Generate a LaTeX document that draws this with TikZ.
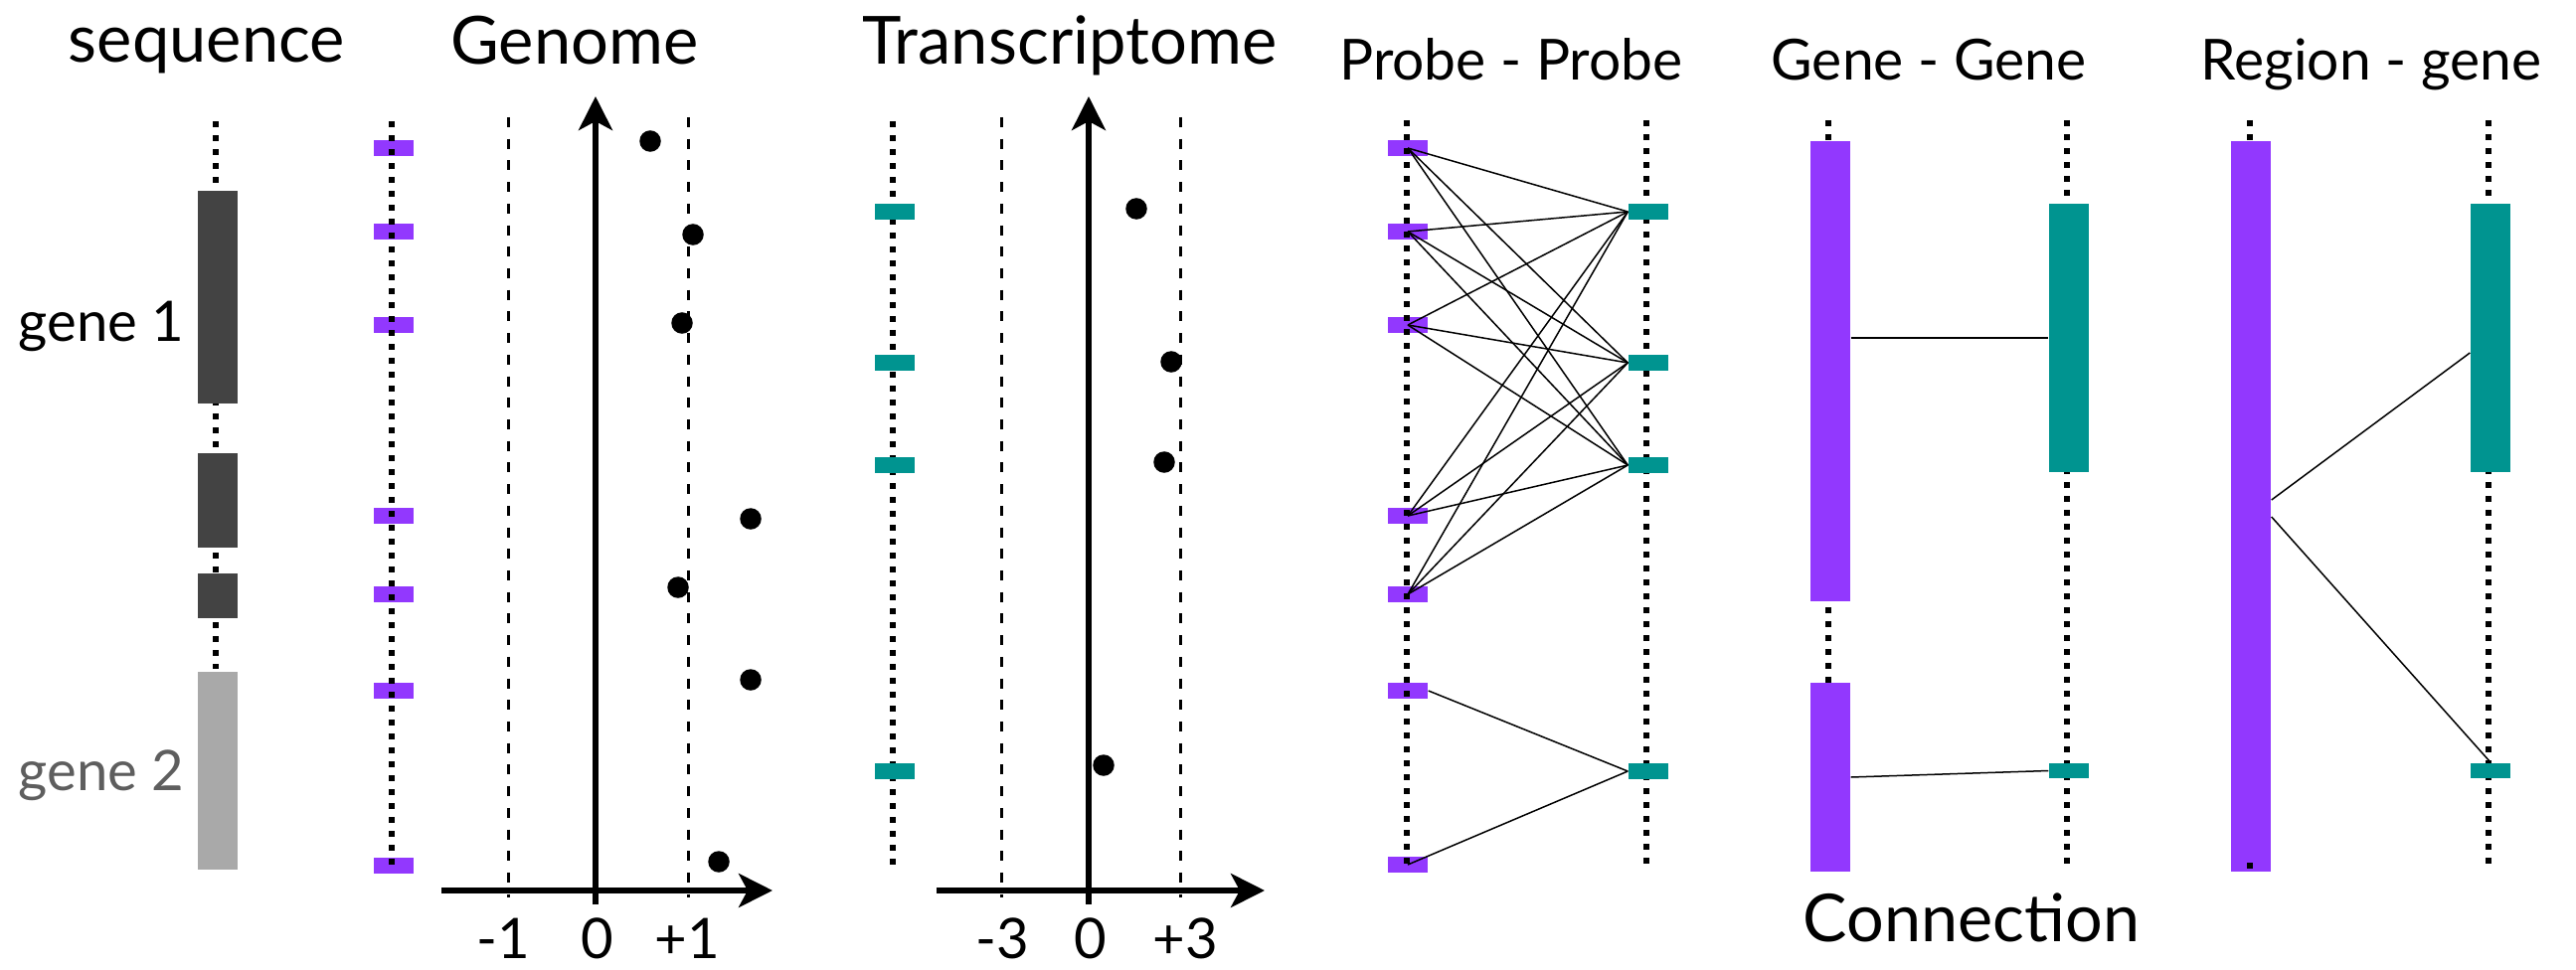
\documentclass[tikz,border=0pt]{standalone}
\usepackage{fontspec}
\setmainfont{Lato}
\usetikzlibrary{arrows.meta}
\definecolor{pur}{RGB}{146,56,254}
\definecolor{tl}{RGB}{0,148,144}
\definecolor{dkgray}{RGB}{67,67,67}
\definecolor{ltgray}{RGB}{169,169,169}
\definecolor{txgray}{RGB}{94,94,94}
\begin{document}
\begin{tikzpicture}[x=0.01cm,y=-0.01cm,
  dotline/.style={line width=0.06cm, dash pattern=on 0.06cm off 0.08cm},
  dashline/.style={line width=0.03cm, dash pattern=on 0.10cm off 0.117cm},
  axis/.style={line width=0.055cm, -{Stealth[length=0.34cm,width=0.34cm,inset=0.09cm]}},
  pprobe/.style={fill=pur, minimum width=0.4cm, minimum height=0.155cm, inner sep=0pt},
  tprobe/.style={fill=tl, minimum width=0.4cm, minimum height=0.155cm, inner sep=0pt},
  pbar/.style={fill=pur, minimum width=0.4cm, inner sep=0pt},
  tbar/.style={fill=tl, minimum width=0.4cm, inner sep=0pt},
  dot/.style={circle, fill=black, minimum size=0.215cm, inner sep=0pt},
  link/.style={line width=0.015cm},
  bigtitle/.style={font=\fontsize{19}{22}\selectfont, anchor=base, inner sep=0pt},
  smalltitle/.style={font=\fontsize{16.2}{19}\selectfont, anchor=base, inner sep=0pt},
  ticklabel/.style={font=\fontsize{16}{19}\selectfont, anchor=base, inner sep=0pt},
  genelabel/.style={font=\fontsize{16}{19}\selectfont, anchor=base west, inner sep=0pt}]
\useasboundingbox (0,0) rectangle (2591,976);

% ---------- titles ----------
\node[bigtitle] (tseq) at (208,63) {sequence};
\node[bigtitle] (tgen) at (578,65) {Genome};
\node[bigtitle] (ttr) at (1076,65) {Transcriptome};
\node[smalltitle] (tpp) at (1520,81) {Probe - Probe};
\node[smalltitle] (tgg) at (1940,81) {Gene - Gene};
\node[smalltitle] (trg) at (2385,81) {Region - gene};
\node[font=\fontsize{18.9}{22}\selectfont, anchor=base, inner sep=0pt] (tcon) at (1983,947) {Connection};

% ---------- sequence column ----------
\draw[dotline] (217,122) -- (217,673);
\fill[dkgray] (199,192) rectangle (239,406);
\fill[dkgray] (199,456) rectangle (239,551);
\fill[dkgray] (199,577) rectangle (239,622);
\fill[ltgray] (199,676) rectangle (239,875);
\node[genelabel] (g1lab) at (18,343) {gene 1};
\node[genelabel, text=txgray] (g2lab) at (18,795) {gene 2};

% ---------- Genome column ----------
\foreach \i/\y in {1/149,2/233,3/327,4/519,5/598,6/695,7/871}
  \node[pprobe] (gp\i) at (396,\y) {};
\draw[dotline] (394,122) -- (394,875);
\draw[dashline] (511,118) -- (511,903);
\draw[dashline] (692,118) -- (692,903);
\draw[axis] (599,910) -- (599,97);
\draw[axis] (444,896) -- (777,896);
\foreach \i/\x/\y in {1/654/142,2/697/236,3/686/325,4/755/522,5/682/591,6/755/684,7/723/867}
  \node[dot] (gd\i) at (\x,\y) {};
\node[ticklabel] (gm1) at (506,964) {-1};
\node[ticklabel] (g0) at (601,964) {0};
\node[ticklabel] (gp1) at (691,964) {+1};

% ---------- Transcriptome column ----------
\draw[dotline] (898,122) -- (898,873);
\foreach \i/\y in {1/213,2/365,3/468,4/776}
  \node[tprobe] (tp\i) at (900,\y) {};
\draw[dashline] (1007,118) -- (1007,903);
\draw[dashline] (1187,118) -- (1187,903);
\draw[axis] (1095,910) -- (1095,97);
\draw[axis] (942,896) -- (1272,896);
\foreach \i/\x/\y in {1/1143/210,2/1178/364,3/1171/465,4/1110/770}
  \node[dot] (td\i) at (\x,\y) {};
\node[ticklabel] (tm3) at (1008,964) {-3};
\node[ticklabel] (t0) at (1097,964) {0};
\node[ticklabel] (tp3) at (1192,964) {+3};

% ---------- Probe - Probe ----------
\foreach \i/\y in {1/149,2/233,3/327,4/519,5/598,6/695,7/870}
  \node[pprobe] (pp\i) at (1416,\y) {};
\draw[dotline] (1415,121) -- (1415,874);
\draw[dotline] (1656,121) -- (1656,874);
\foreach \i/\y in {1/213,2/365,3/468,4/776}
  \node[tprobe] (pt\i) at (1658,\y) {};
\foreach \a in {1,2,3,4,5}
  \foreach \b in {1,2,3}
    \draw[link] (pp\a.center) -- (pt\b.west);
\draw[link] (pp6.east) -- (pt4.west);
\draw[link] (pp7.center) -- (pt4.west);

% ---------- Gene - Gene ----------
\draw[dotline] (1839,121) -- (1839,874);
\draw[dotline] (2079,121) -- (2079,874);
\node[pbar, minimum height=4.63cm] (gg1) at (1841,373.5) {};
\node[pbar, minimum height=1.90cm] (gg2) at (1841,782) {};
\node[tbar, minimum height=2.70cm] (gt1) at (2081,340) {};
\node[tprobe] (gt2) at (2081,775.5) {};
\draw[link] (gg1.east |- gt1.west) -- (gt1.west);
\draw[link] (gg2.east) -- (gt2.west);

% ---------- Region - gene ----------
\draw[dotline] (2263,121) -- (2263,874);
\draw[dotline] (2503,121) -- (2503,874);
\node[pbar, minimum height=7.35cm] (rg1) at (2264,509.5) {};
\fill[black] (2260,868) rectangle (2266,874);
\node[tbar, minimum height=2.70cm] (rt1) at (2505,340) {};
\node[tprobe] (rt2) at (2505,775.5) {};
\draw[link] ([yshift=0.065cm]rg1.east) -- ([yshift=-0.15cm]rt1.west);
\draw[link] ([yshift=-0.105cm]rg1.east) -- (rt2.north);
\end{tikzpicture}
\end{document}
